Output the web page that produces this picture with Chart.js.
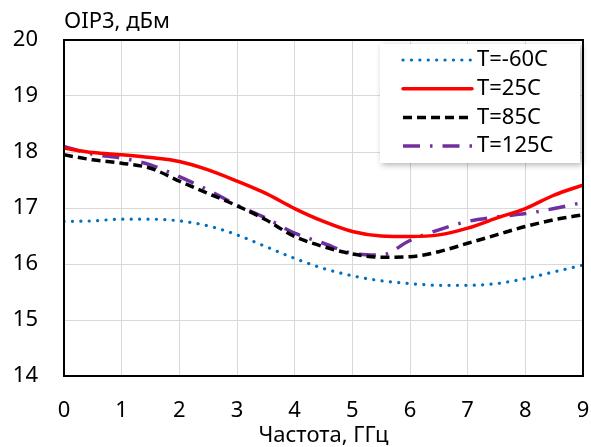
<!DOCTYPE html>
<html>
<head>
<meta charset="utf-8">
<script src="https://cdn.jsdelivr.net/npm/chart.js@4/dist/chart.umd.min.js"></script>
<style>
  html, body { margin: 0; padding: 0; background: #fff; }
  #wrap { width: 591px; height: 447px; }
</style>
</head>
<body>
<div id="wrap"><canvas id="oip3Chart" width="591" height="447"></canvas></div>
<script>
// frequency points, GHz
const freqs = [0, 0.5, 1, 1.5, 2, 2.5, 3, 3.5, 4, 4.5, 5, 5.5, 6, 6.5, 7, 7.5, 8, 8.5, 9];

// OIP3, dBm for each temperature
const tMinus60 = [16.76, 16.77, 16.8, 16.8, 16.77, 16.68, 16.52, 16.31, 16.1, 15.92, 15.79, 15.7, 15.65, 15.62, 15.62, 15.65, 15.74, 15.86, 15.98];
const t25 = [18.07, 17.99, 17.95, 17.9, 17.83, 17.68, 17.48, 17.26, 16.99, 16.76, 16.58, 16.5, 16.49, 16.52, 16.64, 16.82, 16.99, 17.23, 17.41];
const t85 = [17.95, 17.86, 17.8, 17.71, 17.48, 17.26, 17.04, 16.79, 16.49, 16.31, 16.18, 16.12, 16.13, 16.22, 16.37, 16.52, 16.67, 16.79, 16.88];
const t125 = [18.1, 17.96, 17.89, 17.77, 17.56, 17.32, 17.05, 16.82, 16.55, 16.37, 16.19, 16.16, 16.42, 16.61, 16.76, 16.84, 16.9, 16.99, 17.1];

const seriesNames = ["T=-60C", "T=25C", "T=85C", "T=125C"];
const xTicks = [0, 1, 2, 3, 4, 5, 6, 7, 8, 9];
const yTicks = [14, 15, 16, 17, 18, 19, 20];

const FONT = "'Noto Sans', 'DejaVu Sans', sans-serif";

function toPoints(values) {
  return values.map((v, i) => ({ x: freqs[i], y: v }));
}

const styles = [
  { color: "#0070C0", width: 3.2, dash: [0.1, 8.3], cap: "round" },
  { color: "#FF0000", width: 3.5, dash: [], cap: "round" },
  { color: "#000000", width: 3.5, dash: [9, 5], cap: "butt" },
  { color: "#7030A0", width: 3.5, dash: [17, 10, 2.5, 10], cap: "butt" }
];

const datasets = [tMinus60, t25, t85, t125].map((vals, i) => ({
  label: seriesNames[i],
  data: toPoints(vals),
  borderColor: styles[i].color,
  borderWidth: styles[i].width,
  borderDash: styles[i].dash,
  borderCapStyle: styles[i].cap,
  pointRadius: 0,
  fill: false,
  cubicInterpolationMode: "monotone"
}));

// frame around the plot + title top-left
const framePlugin = {
  id: "frame",
  afterDraw(chart) {
    const { ctx, chartArea: a } = chart;
    ctx.save();
    ctx.strokeStyle = "#000";
    ctx.lineWidth = 2;
    ctx.strokeRect(a.left, a.top, a.right - a.left, a.bottom - a.top);
    ctx.fillStyle = "#000";
    ctx.font = "22px " + FONT;
    ctx.textAlign = "left";
    ctx.textBaseline = "middle";
    ctx.fillText("OIP3, дБм", a.left, 22);
    ctx.restore();
  }
};

// legend box in the upper right corner
const legendPlugin = {
  id: "boxLegend",
  afterDraw(chart) {
    const { ctx } = chart;
    const box = { x: 380, y: 44, w: 200, h: 119 };
    ctx.save();
    ctx.shadowColor = "rgba(0,0,0,0.3)";
    ctx.shadowBlur = 6;
    ctx.shadowOffsetX = 2;
    ctx.shadowOffsetY = 2;
    ctx.fillStyle = "#fff";
    ctx.fillRect(box.x, box.y, box.w, box.h);
    ctx.restore();

    ctx.save();
    ctx.font = "22px " + FONT;
    ctx.textBaseline = "middle";
    ctx.textAlign = "left";
    chart.data.datasets.forEach((ds, i) => {
      const yy = 60 + i * 28.7;
      ctx.beginPath();
      ctx.strokeStyle = ds.borderColor;
      ctx.lineWidth = ds.borderWidth;
      ctx.setLineDash(ds.borderDash);
      ctx.lineCap = ds.borderCapStyle;
      ctx.moveTo(403, yy);
      ctx.lineTo(472, yy);
      ctx.stroke();
      ctx.setLineDash([]);
      ctx.fillStyle = "#000";
      ctx.fillText(ds.label, 477, yy);
    });
    ctx.restore();
  }
};

new Chart(document.getElementById("oip3Chart"), {
  type: "line",
  data: { datasets: datasets },
  options: {
    responsive: false,
    animation: false,
    layout: { padding: { left: 0, top: 40, right: 8, bottom: 0 } },
    plugins: {
      legend: { display: false },
      tooltip: { enabled: false }
    },
    scales: {
      x: {
        type: "linear",
        min: 0,
        max: 9,
        afterBuildTicks: (s) => { s.ticks = xTicks.map((v) => ({ value: v })); },
        afterFit: (s) => {
          s.height = 71;
          s.paddingLeft = 0;
          s.paddingRight = 0;
        },
        grid: { color: "#d9d9d9", lineWidth: 1, drawTicks: false },
        border: { display: false },
        ticks: { color: "#000", font: { family: FONT, size: 22 }, padding: 22, maxRotation: 0 },
        title: {
          display: true,
          text: "Частота, ГГц",
          color: "#000",
          font: { family: FONT, size: 22, lineHeight: 1 },
          padding: 0
        }
      },
      y: {
        min: 14,
        max: 20,
        afterBuildTicks: (s) => { s.ticks = yTicks.map((v) => ({ value: v })); },
        afterFit: (s) => { s.width = 64; },
        grid: { color: "#d9d9d9", lineWidth: 1, drawTicks: false },
        border: { display: false },
        ticks: { color: "#000", font: { family: FONT, size: 22 }, padding: 26 }
      }
    }
  },
  plugins: [framePlugin, legendPlugin]
});
</script>
</body>
</html>
